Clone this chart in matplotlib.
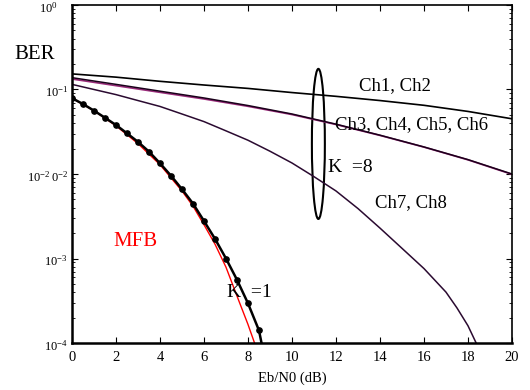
import numpy as np
import matplotlib
matplotlib.use("Agg")
import matplotlib.pyplot as plt
import matplotlib.transforms as mtransforms
from matplotlib.patches import Ellipse

plt.rcParams['font.family'] = ['Liberation Serif', 'DejaVu Serif']
plt.rcParams['mathtext.fontset'] = 'custom'
plt.rcParams['mathtext.rm'] = 'Liberation Serif'
plt.rcParams['mathtext.it'] = 'Liberation Serif:italic'

# K = 8 curves (Eb/N0 in dB, BER)
snr_k8 = [0, 2, 4, 6, 8, 10, 12, 14, 16, 18, 20]
ber_ch12 = [0.153, 0.140, 0.125, 0.113, 0.103, 0.092, 0.083, 0.074, 0.065, 0.055, 0.045]
ber_ch34 = [0.138, 0.115, 0.0955, 0.0794, 0.0646, 0.0513, 0.0389, 0.0288, 0.0209, 0.0148, 0.0100]
ber_ch56 = [0.133, 0.111, 0.0925, 0.0772, 0.0632, 0.0505, 0.0385, 0.0286, 0.0208, 0.0147, 0.0099]

snr_ch78 = [0, 1, 2, 3, 4, 5, 6, 7, 8, 9, 10, 11, 12, 13, 14, 15, 16, 17, 17.5, 18, 18.5]
ber_ch78 = [0.115, 0.100, 0.087, 0.074, 0.063, 0.0513, 0.0417, 0.0324, 0.0251, 0.0186, 0.0135,
            0.0093, 0.0063, 0.0039, 0.00229, 0.00132, 7.6e-4, 4.0e-4, 2.6e-4, 1.6e-4, 8.5e-5]

# K = 1 simulation (markers) and matched filter bound
snr_k1 = [0, 0.5, 1, 1.5, 2, 2.5, 3, 3.5, 4, 4.5, 5, 5.5, 6, 6.5, 7, 7.5, 8, 8.5, 9]
ber_k1 = [0.079, 0.0673, 0.0562, 0.0463, 0.0380, 0.0303, 0.0240, 0.0184, 0.0134, 0.00955,
          0.00661, 0.00447, 0.00278, 0.00171, 0.0010, 5.6e-4, 2.95e-4, 1.41e-4, 3.2e-5]
snr_mfb = [0, 1, 2, 3, 4, 5, 5.5, 6, 6.5, 7, 7.5, 8, 8.5]
ber_mfb = [0.079, 0.0562, 0.0372, 0.0229, 0.0129, 0.0063, 0.00417, 0.00251, 0.00148,
           7.9e-4, 3.6e-4, 1.66e-4, 7.1e-5]

yticks = [1, 1e-1, 1e-2, 1e-3, 1e-4]
ytick_labels = [r'$10^{0}$', r'$10^{-1}$', r'$10^{-2}$', r'$10^{-3}$', r'$10^{-4}$']
xticks = [0, 2, 4, 6, 8, 10, 12, 14, 16, 18, 20]

fig = plt.figure(figsize=(5.3, 3.9), dpi=100)
ax = fig.add_axes([0.1358, 0.1205, 0.8302, 0.8667])

ax.semilogy(snr_k8, ber_ch12, color='black', lw=1.2)
ax.semilogy(snr_k8, ber_ch56, color='#9a2a7a', lw=1.2)
ax.semilogy(snr_k8, ber_ch34, color='#1a001a', lw=1.1)
ax.semilogy(snr_ch78, ber_ch78, color='#2a0a30', lw=1.1)
ax.semilogy(snr_mfb, ber_mfb, color='red', lw=1.0)
ax.semilogy(snr_k1, ber_k1, color='black', lw=1.8, marker='o', ms=3.8,
            markevery=slice(0, 18))

ax.set_xlim(0, 20)
ax.set_ylim(1e-4, 1)
ax.set_xticks(xticks)
ax.set_xticklabels([str(v) for v in xticks], fontsize=10.5)
ax.set_yticks(yticks)
ax.set_yticklabels([])
ax.tick_params(which='both', direction='in', top=True, right=True)
ax.tick_params(which='major', length=4, width=0.8, pad=6)
ax.tick_params(which='minor', length=2.5, width=0.6)

for s in ['left', 'bottom']:
    ax.spines[s].set_linewidth(1.8)
for s in ['top', 'right']:
    ax.spines[s].set_linewidth(1.2)

# y tick labels drawn by hand so the odd doubled 10^-2 label can be kept
ytr = ax.get_yaxis_transform() + mtransforms.ScaledTranslation(0, -3 / 100, fig.dpi_scale_trans)
for v, lab in zip(yticks, ytick_labels):
    if v == 1:
        ax.text(-0.032, v, lab, transform=ytr, ha='right', va='center', fontsize=9)
    elif v == 1e-2:
        ax.text(-0.05, v, lab, transform=ytr, ha='right', va='center', fontsize=9)
        ax.text(-0.009, v, r'$0^{-2}$', transform=ytr, ha='right', va='center', fontsize=9)
    else:
        ax.text(-0.009, v, lab, transform=ytr, ha='right', va='center', fontsize=9)

ax.set_xlabel('Eb/N0 (dB)', fontsize=10.5, labelpad=5)
fig.text(0.066, 0.859, 'BER', fontsize=15, ha='center', va='center')

ax.text(14.7, 0.11, 'Ch1, Ch2', fontsize=13.5, ha='center', va='center')
ax.text(15.45, 0.038, 'Ch3, Ch4, Ch5, Ch6', fontsize=13.5, ha='center', va='center')
ax.text(11.64, 0.0118, 'K  =8', fontsize=14, ha='left', va='center')
ax.text(15.4, 0.00454, 'Ch7, Ch8', fontsize=13.5, ha='center', va='center')
ax.text(2.9, 0.00157, 'MFB', fontsize=15, color='red', ha='center', va='center')
ax.text(7.05, 4.0e-4, 'K  =1', fontsize=14, ha='left', va='center')

ax.add_patch(Ellipse((0.560, 0.589), 0.0295, 0.444, transform=ax.transAxes,
                     fill=False, lw=1.5, color='black'))

fig.savefig('out.png', dpi=100)
